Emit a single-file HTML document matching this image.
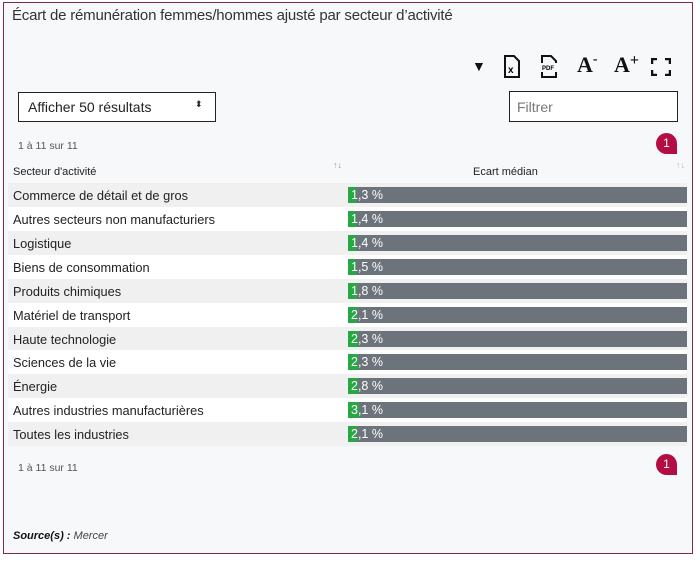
<!DOCTYPE html>
<html><head><meta charset="utf-8"><style>
*{box-sizing:border-box;margin:0;padding:0}
body{width:700px;height:562px;background:#fff;font-family:"Liberation Sans",sans-serif;position:relative;overflow:hidden}
.frame{position:absolute;left:3px;top:2px;width:690px;height:552px;border:1px solid #7a2a4a;background:#f7f8fa}
.a{position:absolute}
.title{left:12px;top:7px;font-size:15px;color:#333;letter-spacing:-0.2px}
.sel{left:18px;top:92px;width:198px;height:30px;border:1.5px solid #222;background:#fff;font-size:14px;color:#222;padding:6px 0 0 9px}
.filt{left:509px;top:91px;width:169px;height:31px;border:1.5px solid #222;background:#fff;font-size:14px;color:#777;padding:7px 0 0 7px}
.small{font-size:10.5px;color:#555}
.badge{width:21px;height:21px;background:#b30d43;color:#fff;border-radius:50% 50% 0 50%;font-size:12px;text-align:center;line-height:21px}
.row{position:absolute;left:8px;width:679px;height:24px;font-size:12.8px;color:#222}
.row .l{position:absolute;left:5px;top:5px}
.bar{position:absolute;left:340px;top:4px;width:339px;height:16px;background:#6c737b}
.g{position:absolute;left:0;top:0;height:16px;background:#27a844}
.v{position:absolute;left:3px;top:1px;color:#fff;font-size:12.5px}
.ic{font-weight:bold;color:#111}
</style></head><body>
<div class="frame"></div>
<div class="a title">Écart de rémunération femmes/hommes ajusté par secteur d’activité</div>
<div class="a ic" style="left:472px;top:58px;font-size:14px">▼</div>
<svg class="a" style="left:503px;top:55px" width="18" height="24"><path d="M2 1h9l5 5v16H2z" fill="none" stroke="#111" stroke-width="2"/><text x="5" y="18" font-size="10" font-family="Liberation Sans" font-weight="bold">x</text></svg>
<svg class="a" style="left:540px;top:55px" width="18" height="24"><path d="M2 8V1h9l5 5v2M2 17v5h14v-5" fill="none" stroke="#111" stroke-width="2"/><text x="2" y="15" font-size="6" font-family="Liberation Sans" font-weight="bold">PDF</text></svg>
<div class="a ic" style="left:577px;top:52px;font-size:22px;font-family:'Liberation Serif',serif">A<span style="font-size:14px;vertical-align:top">-</span></div>
<div class="a ic" style="left:614px;top:52px;font-size:22px;font-family:'Liberation Serif',serif">A<span style="font-size:16px;vertical-align:top">+</span></div>
<svg class="a" style="left:651px;top:58px" width="20" height="18"><path d="M1 6V1h5M14 1h5v5M19 12v5h-5M6 17H1v-5" fill="none" stroke="#111" stroke-width="2.5"/></svg>
<div class="a sel">Afficher 50 résultats<span style="position:absolute;left:176px;top:6px;font-size:9px">⬍</span></div>
<div class="a filt">Filtrer</div>
<div class="a small" style="left:18px;top:140px">1 à 11 sur 11</div>
<div class="a badge" style="left:656px;top:133px">1</div>
<div class="a" style="left:13px;top:166px;font-size:11px;color:#222">Secteur d'activité</div>
<div class="a" style="left:333px;top:160px;font-size:9px;color:#999">↑↓</div>
<div class="a" style="left:473px;top:166px;font-size:11px;color:#222">Ecart médian</div>
<div class="a" style="left:676px;top:160px;font-size:9px;color:#bbb">↑↓</div>
<div class="row" style="top:183px;background:#f0f0f0"><span class="l">Commerce de détail et de gros</span><div class="bar"><div class="g" style="width:8px"></div><span class="v">1,3 %</span></div></div>
<div class="row" style="top:207px;background:#fff"><span class="l">Autres secteurs non manufacturiers</span><div class="bar"><div class="g" style="width:8px"></div><span class="v">1,4 %</span></div></div>
<div class="row" style="top:231px;background:#f0f0f0"><span class="l">Logistique</span><div class="bar"><div class="g" style="width:8px"></div><span class="v">1,4 %</span></div></div>
<div class="row" style="top:255px;background:#fff"><span class="l">Biens de consommation</span><div class="bar"><div class="g" style="width:8px"></div><span class="v">1,5 %</span></div></div>
<div class="row" style="top:279px;background:#f0f0f0"><span class="l">Produits chimiques</span><div class="bar"><div class="g" style="width:9px"></div><span class="v">1,8 %</span></div></div>
<div class="row" style="top:303px;background:#fff"><span class="l">Matériel de transport</span><div class="bar"><div class="g" style="width:9px"></div><span class="v">2,1 %</span></div></div>
<div class="row" style="top:327px;background:#f0f0f0"><span class="l">Haute technologie</span><div class="bar"><div class="g" style="width:10px"></div><span class="v">2,3 %</span></div></div>
<div class="row" style="top:350px;background:#fff"><span class="l">Sciences de la vie</span><div class="bar"><div class="g" style="width:10px"></div><span class="v">2,3 %</span></div></div>
<div class="row" style="top:374px;background:#f0f0f0"><span class="l">Énergie</span><div class="bar"><div class="g" style="width:10px"></div><span class="v">2,8 %</span></div></div>
<div class="row" style="top:398px;background:#fff"><span class="l">Autres industries manufacturières</span><div class="bar"><div class="g" style="width:11px"></div><span class="v">3,1 %</span></div></div>
<div class="row" style="top:422px;background:#f0f0f0"><span class="l">Toutes les industries</span><div class="bar"><div class="g" style="width:9px"></div><span class="v">2,1 %</span></div></div>
<div class="a small" style="left:18px;top:462px">1 à 11 sur 11</div>
<div class="a badge" style="left:656px;top:454px">1</div>
<div class="a" style="left:13px;top:530px;font-size:11px;font-style:italic;color:#444"><b style="color:#111">Source(s) :</b> Mercer</div>
</body></html>
